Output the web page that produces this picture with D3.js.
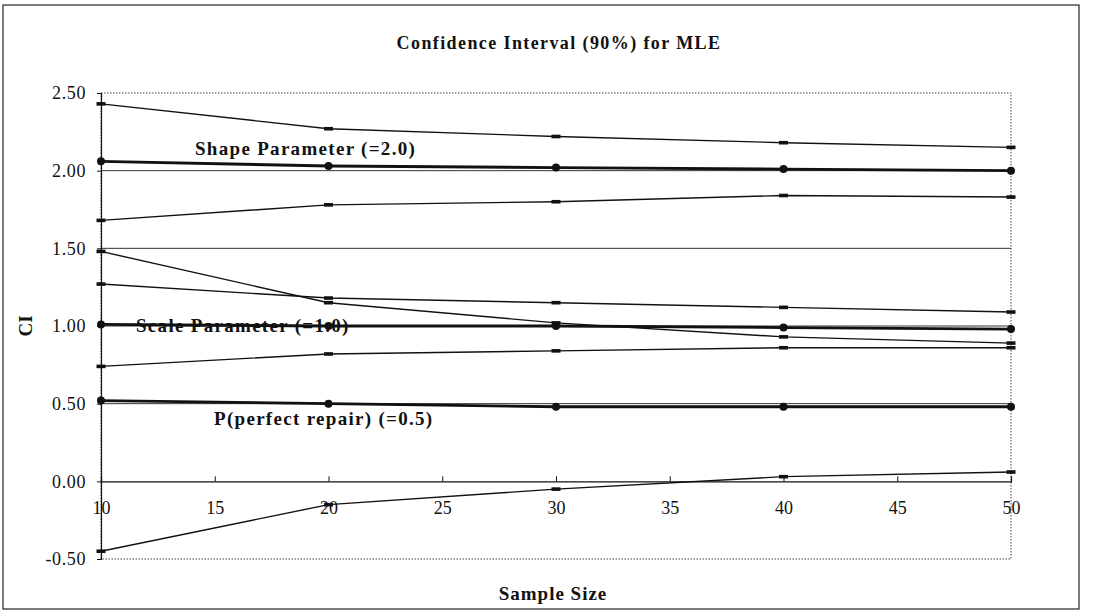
<!DOCTYPE html>
<html>
<head>
<meta charset="utf-8">
<script src="https://cdn.jsdelivr.net/npm/d3@7"></script>
<style>
  body { margin: 0; background: #fff; }
  text { font-family: "Liberation Serif", "DejaVu Serif", serif; fill: #111; }
</style>
</head>
<body>
<div id="chart"></div>
<script>
var svgWidth = 1118;
var svgHeight = 613;

// sample sizes on the x axis
var sampleSizes = [10, 20, 30, 40, 50];

// shape parameter (=2.0)
var shapeMLE   = [2.06, 2.03, 2.02, 2.01, 2.00];
var shapeUpper = [2.43, 2.27, 2.22, 2.18, 2.15];
var shapeLower = [1.68, 1.78, 1.80, 1.84, 1.83];

// scale parameter (=1.0)
var scaleMLE   = [1.01, 1.00, 1.00, 0.99, 0.98];
var scaleUpper = [1.27, 1.18, 1.15, 1.12, 1.09];
var scaleLower = [0.74, 0.82, 0.84, 0.86, 0.86];

// P(perfect repair) (=0.5)
var repairMLE   = [0.52, 0.50, 0.48, 0.48, 0.48];
var repairUpper = [1.48, 1.15, 1.02, 0.93, 0.89];
var repairLower = [-0.45, -0.15, -0.05, 0.03, 0.06];

var xTicks = [10, 15, 20, 25, 30, 35, 40, 45, 50];
var yTicks = [-0.5, 0, 0.5, 1.0, 1.5, 2.0, 2.5];
var gridValues = [0.5, 1.0, 1.5, 2.0];

var titleText = "Confidence Interval (90%) for MLE";
var seriesLabels = ["Shape Parameter (=2.0)", "Scale Parameter (=1.0)", "P(perfect repair) (=0.5)"];

var margin = {left: 101, right: 107, top: 93, bottom: 54};

var svg = d3.select("#chart")
  .append("svg")
  .attr("width", svgWidth)
  .attr("height", svgHeight);

// outer frame
svg.append("rect")
  .attr("x", 3).attr("y", 5)
  .attr("width", 1076).attr("height", 604)
  .attr("fill", "none")
  .attr("stroke", "#222")
  .attr("stroke-width", 1.2);

var xScale = d3.scaleLinear()
  .domain([10, 50])
  .range([margin.left, svgWidth - margin.right]);

var yScale = d3.scaleLinear()
  .domain([-0.5, 2.5])
  .range([svgHeight - margin.bottom, margin.top]);

// plot area border (dotted)
svg.append("rect")
  .attr("x", xScale(10)).attr("y", yScale(2.5))
  .attr("width", xScale(50) - xScale(10))
  .attr("height", yScale(-0.5) - yScale(2.5))
  .attr("fill", "none")
  .attr("stroke", "#444")
  .attr("stroke-width", 1)
  .attr("stroke-dasharray", "1.5,1.5");

// gridlines
svg.selectAll(".grid")
  .data(gridValues)
  .enter().append("line")
  .attr("x1", xScale(10)).attr("x2", xScale(50))
  .attr("y1", d => yScale(d)).attr("y2", d => yScale(d))
  .attr("stroke", "#333")
  .attr("stroke-width", 1);

// y axis, plain hyphen for negatives
var yAxis = d3.axisLeft(yScale)
  .tickValues(yTicks)
  .tickSize(4)
  .tickPadding(11)
  .tickFormat(d => d.toFixed(2));

var gy = svg.append("g")
  .attr("transform", "translate(" + xScale(10) + ",0)")
  .call(yAxis);
gy.select(".domain").attr("stroke", "#111").attr("stroke-width", 1.2);
gy.selectAll(".tick line").attr("stroke", "#111");
gy.selectAll(".tick text")
  .style("font-family", "Liberation Serif, serif")
  .style("font-size", "18px")
  .style("letter-spacing", "0.6px")
  .attr("fill", "#111");

// x axis crossing at 0, ticks pointing up
var xAxis = d3.axisBottom(xScale)
  .tickValues(xTicks)
  .tickSize(-5)
  .tickPadding(0)
  .tickFormat(d3.format("d"));

var gx = svg.append("g")
  .attr("transform", "translate(0," + yScale(0) + ")")
  .call(xAxis);
gx.select(".domain").attr("stroke", "#111").attr("stroke-width", 1.2);
gx.selectAll(".tick line").attr("stroke", "#111");
gx.selectAll(".tick text")
  .attr("y", 20)
  .style("font-family", "Liberation Serif, serif")
  .style("font-size", "18px")
  .attr("fill", "#111");

var lineGenerator = d3.line()
  .x((d, i) => xScale(sampleSizes[i]))
  .y(d => yScale(d));

// confidence interval lines with dash markers
var ciSeries = [shapeUpper, shapeLower, scaleUpper, scaleLower, repairUpper, repairLower];
ciSeries.forEach(function(values) {
  svg.append("path")
    .attr("fill", "none")
    .attr("stroke", "#111")
    .attr("stroke-width", 1.4)
    .attr("d", lineGenerator(values));
  svg.selectAll(null)
    .data(values)
    .enter().append("rect")
    .attr("x", (d, i) => xScale(sampleSizes[i]) - 4.5)
    .attr("y", d => yScale(d) - 1.8)
    .attr("width", 9)
    .attr("height", 3.6)
    .attr("fill", "#111");
});

// MLE lines with circle markers
var mleSeries = [shapeMLE, scaleMLE, repairMLE];
mleSeries.forEach(function(values) {
  svg.append("path")
    .attr("fill", "none")
    .attr("stroke", "#111")
    .attr("stroke-width", 2.8)
    .attr("d", lineGenerator(values));
  svg.selectAll(null)
    .data(values)
    .enter().append("circle")
    .attr("cx", (d, i) => xScale(sampleSizes[i]))
    .attr("cy", d => yScale(d))
    .attr("r", 4)
    .attr("fill", "#111");
});

// series labels
var labelPos = [[195, 155], [136, 332], [214, 425]];
svg.selectAll(".series-label")
  .data(seriesLabels)
  .enter().append("text")
  .attr("x", (d, i) => labelPos[i][0])
  .attr("y", (d, i) => labelPos[i][1])
  .style("font-size", "19px")
  .style("font-weight", "bold")
  .style("letter-spacing", "1.3px")
  .text(d => d);

// title
svg.append("text")
  .attr("x", 559).attr("y", 49)
  .attr("text-anchor", "middle")
  .style("font-size", "18px")
  .style("font-weight", "bold")
  .style("letter-spacing", "1.4px")
  .text(titleText);

// axis titles
svg.append("text")
  .attr("x", 553).attr("y", 600)
  .attr("text-anchor", "middle")
  .style("font-size", "19px")
  .style("font-weight", "bold")
  .style("letter-spacing", "1px")
  .text("Sample Size");

svg.append("text")
  .attr("transform", "translate(32," + yScale(1.0) + ") rotate(-90)")
  .attr("text-anchor", "middle")
  .style("font-size", "19px")
  .style("font-weight", "bold")
  .text("CI");
</script>
</body>
</html>
